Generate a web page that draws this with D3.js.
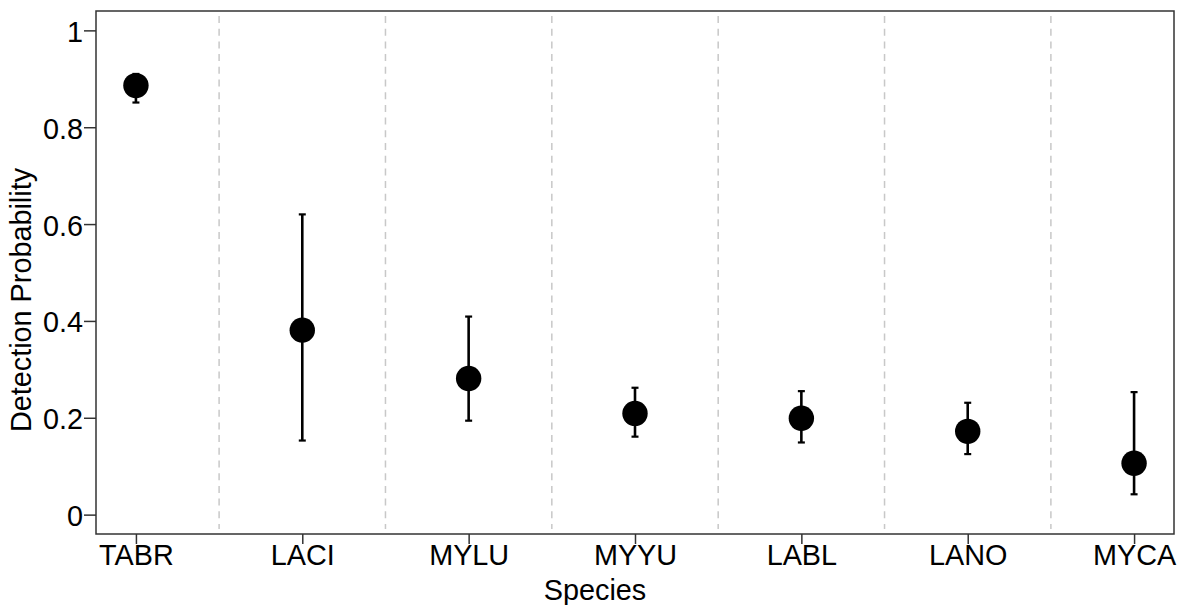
<!DOCTYPE html>
<html>
<head>
<meta charset="utf-8">
<script src="https://cdn.jsdelivr.net/npm/d3@7"></script>
<style>
  html, body { margin: 0; padding: 0; background: #fff; }
  svg text { font-family: "Liberation Sans", Arial, sans-serif; fill: #000; }
</style>
</head>
<body>
<svg id="chart" width="1180" height="605"></svg>
<script>
// Detection probability by species: estimate with lower/upper interval
const species = ["TABR", "LACI", "MYLU", "MYYU", "LABL", "LANO", "MYCA"];
const estimate = [0.886, 0.381, 0.281, 0.209, 0.199, 0.172, 0.106];
const lower    = [0.851, 0.153, 0.194, 0.161, 0.149, 0.125, 0.042];
const upper    = [0.910, 0.620, 0.409, 0.262, 0.255, 0.231, 0.253];
const yTicks   = [0, 0.2, 0.4, 0.6, 0.8, 1];

const rows = species.map((s, i) => ({ s, est: estimate[i], lo: lower[i], hi: upper[i] }));

const svg = d3.select("#chart");
const plot = { left: 96, right: 1174, top: 11, bottom: 534 };
const fontSize = 28.8;

const x = d3.scalePoint().domain(species).range([plot.left, plot.right]).padding(0.24);
const y = d3.scaleLinear().domain([-0.04, 1.04]).range([plot.bottom, plot.top]);

const frameColor = "#333";

// dashed separators between species
const step = x.step();
svg.append("g").selectAll("line")
  .data(species.slice(0, -1))
  .join("line")
  .attr("x1", d => x(d) + step / 2)
  .attr("x2", d => x(d) + step / 2)
  .attr("y1", plot.top + 5)
  .attr("y2", plot.bottom - 5)
  .attr("stroke", "#c8c8c8")
  .attr("stroke-width", 1.5)
  .attr("stroke-dasharray", "7,5.7");

// error bars
const capHalf = 3.5;
const bars = svg.append("g").selectAll("g").data(rows).join("g");
bars.append("line")
  .attr("x1", d => x(d.s)).attr("x2", d => x(d.s))
  .attr("y1", d => y(d.lo)).attr("y2", d => y(d.hi))
  .attr("stroke", "#000").attr("stroke-width", 2.6);
bars.append("line")
  .attr("x1", d => x(d.s) - capHalf).attr("x2", d => x(d.s) + capHalf)
  .attr("y1", d => y(d.lo)).attr("y2", d => y(d.lo))
  .attr("stroke", "#000").attr("stroke-width", 2.2);
bars.append("line")
  .attr("x1", d => x(d.s) - capHalf).attr("x2", d => x(d.s) + capHalf)
  .attr("y1", d => y(d.hi)).attr("y2", d => y(d.hi))
  .attr("stroke", "#000").attr("stroke-width", 2.2);

// point estimates
svg.append("g").selectAll("circle")
  .data(rows)
  .join("circle")
  .attr("cx", d => x(d.s))
  .attr("cy", d => y(d.est))
  .attr("r", 12.7)
  .attr("fill", "#000");

// frame
svg.append("rect")
  .attr("x", plot.left).attr("y", plot.top)
  .attr("width", plot.right - plot.left)
  .attr("height", plot.bottom - plot.top)
  .attr("fill", "none")
  .attr("stroke", frameColor)
  .attr("stroke-width", 1.5);

// y axis
const yAxis = svg.append("g")
  .attr("transform", `translate(${plot.left},0)`)
  .call(d3.axisLeft(y).tickValues(yTicks).tickFormat(d3.format("~g")).tickSize(12).tickPadding(1));
yAxis.select(".domain").remove();
yAxis.selectAll("line").attr("stroke", frameColor).attr("stroke-width", 1.5);
yAxis.selectAll("text").attr("font-size", fontSize).attr("dy", "0.38em").attr("fill", "#000");

// x axis
const xAxis = svg.append("g")
  .attr("transform", `translate(0,${plot.bottom})`)
  .call(d3.axisBottom(x).tickSize(10));
xAxis.select(".domain").remove();
xAxis.selectAll("line").attr("stroke", frameColor).attr("stroke-width", 1.5);
xAxis.selectAll("text").attr("font-size", fontSize).attr("y", 30.5).attr("dy", null).attr("fill", "#000");

// axis titles
svg.append("text")
  .attr("x", 595).attr("y", 600)
  .attr("text-anchor", "middle")
  .attr("font-size", fontSize)
  .text("Species");

svg.append("text")
  .attr("transform", "translate(31,300) rotate(-90)")
  .attr("text-anchor", "middle")
  .attr("font-size", fontSize)
  .text("Detection Probability");
</script>
</body>
</html>
